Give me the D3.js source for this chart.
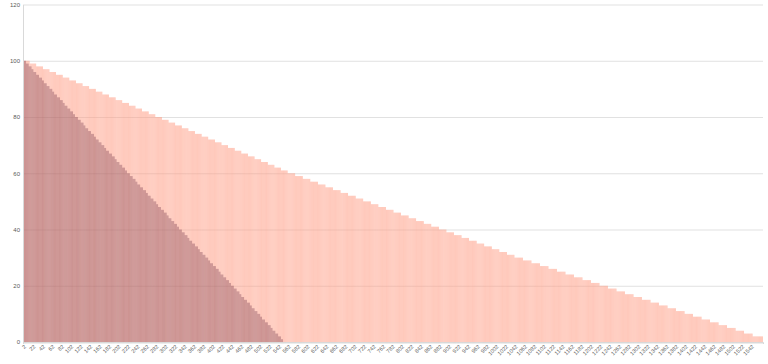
<!DOCTYPE html>
<html>
<head>
<meta charset="utf-8">
<script src="https://cdn.jsdelivr.net/npm/d3@7"></script>
<style>
  html, body { margin: 0; padding: 0; background: #fff; }
  svg { display: block; font-family: "Liberation Sans", Arial, sans-serif; }
</style>
</head>
<body>
<div id="chart"></div>
<script>
// category axis: 2, 4, 6 ... 1566
const categories = d3.range(2, 1568, 2);
const xTickLabels = [2, 22, 42, 62, 82, 102, 122, 142, 162, 182, 202, 222, 242, 262, 282, 302, 322, 342, 362, 382,
  402, 422, 442, 462, 482, 502, 522, 542, 562, 582, 602, 622, 642, 662, 682, 702, 722, 742, 762, 782,
  802, 822, 842, 862, 882, 902, 922, 942, 962, 982, 1002, 1022, 1042, 1062, 1082, 1102, 1122, 1142, 1162, 1182,
  1202, 1222, 1242, 1262, 1282, 1302, 1322, 1342, 1362, 1382, 1402, 1422, 1442, 1462, 1482, 1502, 1522, 1542];
const yTicks = [0, 20, 40, 60, 80, 100, 120];

// salmon series: step levels and how many categories each level lasts
const salmonLevels = [100, 99, 98, 97, 96, 95, 94, 93, 92, 91, 90, 89, 88, 87, 86, 85, 84, 83, 82, 81,
  80, 79, 78, 77, 76, 75, 74, 73, 72, 71, 70, 69, 68, 67, 66, 65, 64, 63, 62, 61,
  60, 59, 58, 57, 56, 55, 54, 53, 52, 51, 50, 49, 48, 47, 46, 45, 44, 43, 42, 41,
  40, 39, 38, 37, 36, 35, 34, 33, 32, 31, 30, 29, 28, 27, 26, 25, 24, 23, 22, 21,
  20, 19, 18, 17, 16, 15, 14, 13, 12, 11, 10, 9, 8, 7, 6, 5, 4, 3, 2];
const salmonRuns = [7, 7, 7, 7, 7, 7, 7, 7, 7, 7, 7, 7, 7, 7, 7, 7, 7, 7, 7, 7,
  7, 7, 7, 7, 7, 7, 7, 7, 7, 7, 7, 7, 7, 7, 7, 7, 7, 7, 7, 7,
  8, 8, 8, 8, 8, 8, 8, 8, 8, 8, 8, 8, 8, 8, 8, 8, 8, 8, 8, 8,
  8, 8, 8, 8, 8, 8, 8, 8, 8, 8, 9, 9, 9, 9, 9, 9, 9, 9, 9, 9,
  9, 9, 9, 9, 9, 9, 9, 9, 9, 9, 9, 9, 9, 9, 9, 9, 9, 9, 11];

// dark series: step levels and run lengths, zero afterwards
const darkLevels = [100, 99, 98, 97, 96, 95, 94, 93, 92, 91, 90, 89, 88, 87, 86, 85, 84, 83, 82, 81,
  80, 79, 78, 77, 76, 75, 74, 73, 72, 71, 70, 69, 68, 67, 66, 65, 64, 63, 62, 61,
  60, 59, 58, 57, 56, 55, 54, 53, 52, 51, 50, 49, 48, 47, 46, 45, 44, 43, 42, 41,
  40, 39, 38, 37, 36, 35, 34, 33, 32, 31, 30, 29, 28, 27, 26, 25, 24, 23, 22, 21,
  20, 19, 18, 17, 16, 15, 14, 13, 12, 11, 10, 9, 8, 7, 6, 5, 4, 3, 2, 1];
const darkRuns = [3, 3, 3, 2, 3, 3, 3, 2, 3, 3, 3, 2, 3, 3, 3, 2, 3, 3, 3, 2,
  3, 3, 3, 2, 3, 3, 3, 2, 3, 3, 3, 2, 3, 3, 3, 2, 3, 3, 3, 2,
  3, 3, 3, 2, 3, 3, 3, 2, 3, 3, 3, 2, 3, 3, 3, 2, 3, 3, 3, 2,
  3, 3, 3, 2, 3, 3, 3, 2, 3, 3, 3, 2, 3, 3, 3, 2, 3, 3, 3, 2,
  3, 3, 3, 2, 3, 3, 3, 2, 3, 3, 3, 2, 3, 3, 3, 2, 3, 3, 3, 2];

// turn level/run pairs into one value per category
const expand = (levels, runs) => {
  let out = [];
  levels.forEach((v, i) => {
    for (let k = 0; k < runs[i]; k++) out.push(v);
  });
  return categories.map((c, i) => ({ cat: c, value: i < out.length ? out[i] : 0 }));
};

const salmon = expand(salmonLevels, salmonRuns);
const dark = expand(darkLevels, darkRuns);

const W = 768, H = 364;
const margin = { top: 4.5, right: 5, bottom: 22, left: 23 };
const width = W - margin.left - margin.right;
const height = H - margin.top - margin.bottom;

const x = d3.scaleBand().domain(categories).range([0, width]).paddingInner(0.2).paddingOuter(0.1);
const y = d3.scaleLinear().domain([0, 120]).range([height, 0]);

const svg = d3.select("#chart").append("svg").attr("width", W).attr("height", H);
const g = svg.append("g").attr("transform", `translate(${margin.left},${margin.top})`);

// gridlines
g.append("g")
  .attr("class", "grid")
  .call(d3.axisLeft(y).tickValues(yTicks).tickSize(-width).tickFormat(""))
  .call((s) => s.select(".domain").remove())
  .selectAll("line")
  .attr("stroke", "#d9d9d9")
  .attr("stroke-width", 0.8);

// bars
g.append("g")
  .selectAll("rect")
  .data(salmon)
  .join("rect")
  .attr("x", (d) => x(d.cat))
  .attr("width", x.bandwidth())
  .attr("y", (d) => y(d.value))
  .attr("height", (d) => y(0) - y(d.value))
  .attr("fill", "rgb(255,160,136)")
  .attr("fill-opacity", 0.72);

g.append("g")
  .selectAll("rect")
  .data(dark.filter((d) => d.value > 0))
  .join("rect")
  .attr("x", (d) => x(d.cat))
  .attr("width", x.bandwidth())
  .attr("y", (d) => y(d.value))
  .attr("height", (d) => y(0) - y(d.value))
  .attr("fill", "rgb(115,55,75)")
  .attr("fill-opacity", 0.45);

// y axis
const yAxis = g.append("g")
  .call(d3.axisLeft(y).tickValues(yTicks).tickSize(0).tickPadding(3));
yAxis.select(".domain").attr("stroke", "#d9d9d9");
yAxis.selectAll("text").attr("fill", "#595959").attr("font-size", 6);

// x axis with a tick per category
const xAxis = g.append("g")
  .attr("transform", `translate(0,${height})`)
  .call(d3.axisBottom(x).tickSize(2).tickFormat(""));
xAxis.select(".domain").attr("stroke", "#d9d9d9");
xAxis.selectAll(".tick line").attr("stroke", "#d9d9d9").attr("stroke-width", 0.5);

g.append("g")
  .selectAll("text")
  .data(xTickLabels)
  .join("text")
  .attr("transform", (d) => `translate(${x(d) + x.bandwidth() / 2 + 2},${height + 4}) rotate(-45)`)
  .attr("text-anchor", "end")
  .attr("dominant-baseline", "middle")
  .attr("fill", "#595959")
  .attr("font-size", 5.5)
  .text((d) => d);
</script>
</body>
</html>
